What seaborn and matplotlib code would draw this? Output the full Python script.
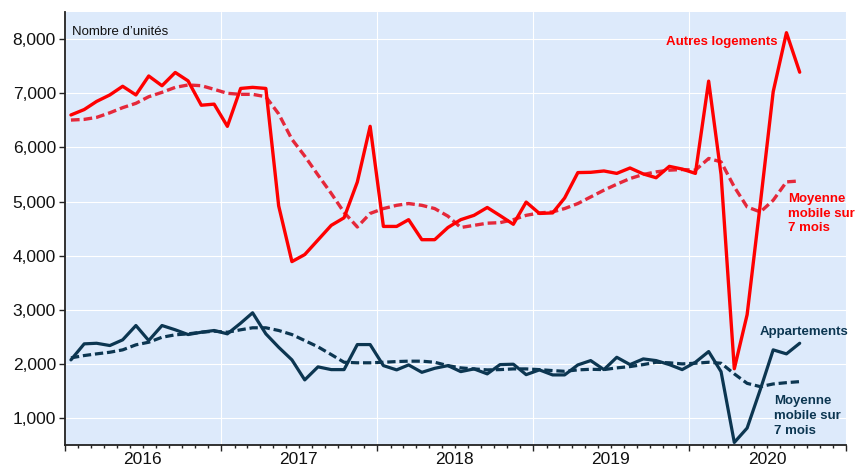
import pandas as pd
import seaborn as sns
import matplotlib.pyplot as plt
import matplotlib.dates as mdates
from matplotlib.ticker import FuncFormatter, NullFormatter

# Monthly data, Jan 2016 - Sep 2020
months = pd.date_range("2016-01-01", "2020-09-01", freq="MS")

autres = [6600, 6700, 6850, 6970, 7130, 6970, 7320, 7140, 7385, 7230, 6780, 6800,
          6390, 7090, 7110, 7090, 4920, 3890, 4020, 4290, 4560, 4700, 5360, 6390,
          4540, 4540, 4665, 4295, 4295, 4520, 4665, 4745, 4890, 4740, 4580, 4990,
          4780, 4790, 5065, 5535, 5540, 5565, 5520, 5620, 5510, 5440, 5650, 5600,
          5520, 7225, 5500, 1910, 2910, 4970, 7030, 8120, 7390]
autres_mm7 = [6506, 6518, 6555, 6640, 6735, 6815, 6937, 7018, 7110, 7154, 7141, 7074,
              7000, 6981, 6981, 6937, 6620, 6150, 5840, 5490, 5150, 4800, 4530, 4780,
              4870, 4930, 4963, 4930, 4870, 4730, 4520, 4560, 4600, 4610, 4665, 4745,
              4790, 4808, 4870, 4963, 5085, 5210, 5320, 5425, 5500, 5548, 5580, 5592,
              5580, 5796, 5733, 5270, 4900, 4808, 5024, 5363, 5381]
apparts = [2074, 2370, 2381, 2339, 2444, 2709, 2431, 2709, 2630, 2542, 2585, 2617,
           2555, 2752, 2944, 2555, 2307, 2074, 1704, 1945, 1894, 1894, 2357, 2357,
           1968, 1889, 1981, 1844, 1918, 1968, 1857, 1907, 1815, 1987, 1994, 1801,
           1889, 1796, 1796, 1981, 2061, 1894, 2122, 1987, 2092, 2061, 1987, 1894,
           2030, 2228, 1857, 548, 814, 1530, 2259, 2185, 2381]
apparts_mm7 = [2111, 2154, 2185, 2215, 2259, 2352, 2400, 2492, 2537, 2555, 2585, 2604,
               2585, 2630, 2667, 2667, 2617, 2542, 2431, 2315, 2172, 2030, 2020, 2020,
               2030, 2043, 2050, 2050, 2030, 1968, 1926, 1907, 1889, 1894, 1907, 1907,
               1894, 1876, 1863, 1889, 1900, 1894, 1926, 1950, 1987, 2030, 2020, 2000,
               2012, 2030, 2012, 1815, 1640, 1579, 1629, 1653, 1672]

RED = "#FF0000"
RED_MM = "#E5283A"
NAVY = "#0C3651"

sns.set_style("whitegrid", {"axes.facecolor": "#DDEAFB", "grid.color": "white",
                            "axes.edgecolor": "#222222"})
plt.rcParams["font.family"] = ["Liberation Sans", "DejaVu Sans"]

fig = plt.figure(figsize=(8.57, 4.67), dpi=100)
ax = fig.add_axes([0.0758, 0.047, 0.9112, 0.927])

# points sit in the middle of each month
x = months + pd.Timedelta(days=14)
dash = (0, (2.6, 1.2))

sns.lineplot(x=x, y=autres_mm7, color=RED_MM, lw=2.4, linestyle=dash, ax=ax)
sns.lineplot(x=x, y=autres, color=RED, lw=2.4, ax=ax)
sns.lineplot(x=x, y=apparts_mm7, color=NAVY, lw=2.3, linestyle=dash, ax=ax)
sns.lineplot(x=x, y=apparts, color=NAVY, lw=2.3, ax=ax)

ax.set_xlim(pd.Timestamp("2016-01-01"), pd.Timestamp("2021-01-01"))
ax.set_ylim(500, 8500)
ax.set_yticks(range(1000, 8001, 1000))
ax.yaxis.set_major_formatter(FuncFormatter(lambda v, p: f"{v:,.0f}"))

ax.xaxis.set_major_locator(mdates.YearLocator())
ax.xaxis.set_major_formatter(NullFormatter())
ax.xaxis.set_minor_locator(mdates.MonthLocator())


def year_label(v, pos):
    d = mdates.num2date(v)
    return str(d.year) if d.month == 7 else ""


ax.xaxis.set_minor_formatter(FuncFormatter(year_label))
ax.grid(which="minor", visible=False)
ax.set_xlabel("")
ax.set_ylabel("")

ax.tick_params(axis="both", which="both", direction="out", color="#222222",
               labelsize=12.5, labelcolor="#111111")
ax.tick_params(axis="x", which="major", bottom=True, length=4.5, width=1)
ax.tick_params(axis="x", which="minor", bottom=True, length=2.5, width=1, pad=2.5)
ax.tick_params(axis="y", which="major", left=True, length=4.5, width=1, pad=2)

sns.despine(ax=ax)
ax.spines["left"].set_linewidth(1.3)
ax.spines["bottom"].set_linewidth(1.3)

ax.text(0.009, 0.969, "Nombre d\u2019unités", transform=ax.transAxes,
        fontsize=9.5, va="top", ha="left", color="#111111")
ax.text(0.912, 0.931, "Autres logements", transform=ax.transAxes, fontsize=9.5,
        fontweight="bold", color=RED, ha="right", va="center")
ax.text(0.926, 0.583, "Moyenne\nmobile sur\n7 mois", transform=ax.transAxes,
        fontsize=9.5, fontweight="bold", color=RED, ha="left", va="top",
        linespacing=1.32, clip_on=False)
ax.text(0.889, 0.261, "Appartements", transform=ax.transAxes, fontsize=9.5,
        fontweight="bold", color=NAVY, ha="left", va="center", clip_on=False)
ax.text(0.908, 0.115, "Moyenne\nmobile sur\n7 mois", transform=ax.transAxes,
        fontsize=9.5, fontweight="bold", color=NAVY, ha="left", va="top",
        linespacing=1.32, clip_on=False)

fig.savefig("out.png", dpi=100)
